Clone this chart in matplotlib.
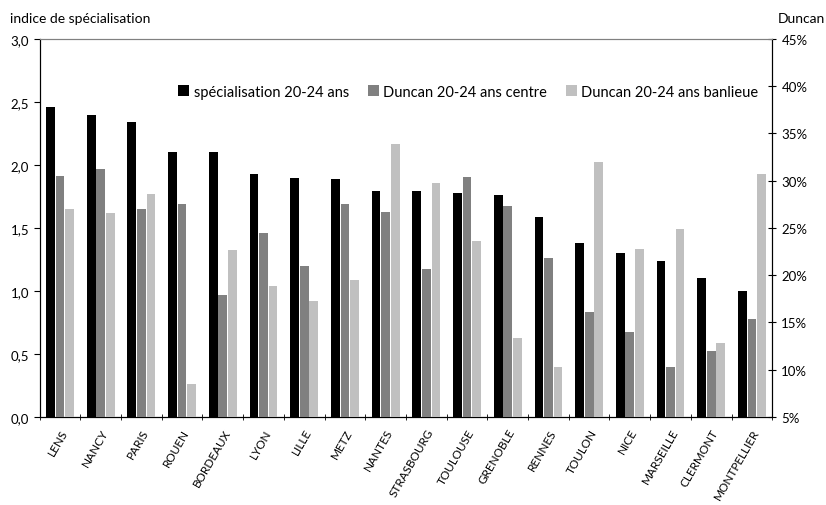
import numpy as np
import matplotlib.pyplot as plt
from matplotlib.ticker import FuncFormatter

plt.rcParams['font.family'] = ['Lato', 'DejaVu Sans']

villes = ['LENS', 'NANCY', 'PARIS', 'ROUEN', 'BORDEAUX', 'LYON', 'LILLE', 'METZ',
          'NANTES', 'STRASBOURG', 'TOULOUSE', 'GRENOBLE', 'RENNES', 'TOULON',
          'NICE', 'MARSEILLE', 'CLERMONT', 'MONTPELLIER']
specialisation = [2.46, 2.40, 2.34, 2.10, 2.10, 1.93, 1.90, 1.89, 1.79, 1.79,
                  1.78, 1.76, 1.59, 1.38, 1.30, 1.24, 1.10, 1.00]
duncan_centre = [30.5, 31.2, 27.0, 27.5, 17.9, 24.5, 21.0, 27.5, 26.7, 20.7,
                 30.4, 27.3, 21.8, 16.1, 14.0, 10.3, 12.0, 15.4]
duncan_banlieue = [27.0, 26.6, 28.6, 8.5, 22.7, 18.9, 17.3, 19.5, 33.9, 29.8,
                   23.6, 13.4, 10.3, 32.0, 22.8, 24.9, 12.8, 30.7]

x = np.arange(len(villes))
w = 0.215
off = 0.235

fig = plt.figure(figsize=(8.26, 5.06), dpi=100)
ax = fig.add_axes([0.048, 0.174, 0.887, 0.747])
ax2 = ax.twinx()

b1 = ax.bar(x - off, specialisation, w, color='black', zorder=3)
b2 = ax2.bar(x, duncan_centre, w, color='#808080', zorder=3)
b3 = ax2.bar(x + off, duncan_banlieue, w, color='#c0c0c0', zorder=3)

ax.set_xlim(-0.5, len(villes) - 0.5)
ax.set_ylim(0, 3.0)
ax.set_yticks(np.arange(0, 3.01, 0.5))
ax.yaxis.set_major_formatter(FuncFormatter(lambda v, p: ('%.1f' % v).replace('.', ',')))
ax2.set_ylim(5, 45)
ax2.set_yticks(np.arange(5, 46, 5))
ax2.yaxis.set_major_formatter(FuncFormatter(lambda v, p: '%d%%' % v))

ax.set_xticks(x)
ax.set_xticklabels(villes, rotation=60, ha='right', rotation_mode='anchor', fontsize=8.5)
ax.set_xticks(np.arange(-0.5, len(villes), 1), minor=True)
ax.tick_params(axis='x', which='major', length=0, pad=7)
ax.tick_params(axis='x', which='minor', length=5, direction='inout')
ax.tick_params(axis='y', labelsize=9.5, length=4, direction='out')
ax2.tick_params(axis='y', labelsize=9.5, length=6, direction='inout')

for a in (ax, ax2):
    a.spines['top'].set_color('#808080')
    a.spines['left'].set_color('black')
    a.spines['right'].set_color('black')
    a.spines['bottom'].set_color('black')

fig.text(0.012, 0.962, 'indice de spécialisation', fontsize=10, va='center')
fig.text(0.999, 0.962, 'Duncan', fontsize=10, va='center', ha='right')

ax2.legend([b1, b2, b3],
           ['spécialisation 20-24 ans', 'Duncan 20-24 ans centre', 'Duncan 20-24 ans banlieue'],
           loc='center', bbox_to_anchor=(0.585, 0.86), ncol=3, frameon=False,
           fontsize=10.5, handlelength=0.75, handleheight=0.75, handletextpad=0.3,
           columnspacing=1.3)

fig.savefig('out.png', dpi=100)
